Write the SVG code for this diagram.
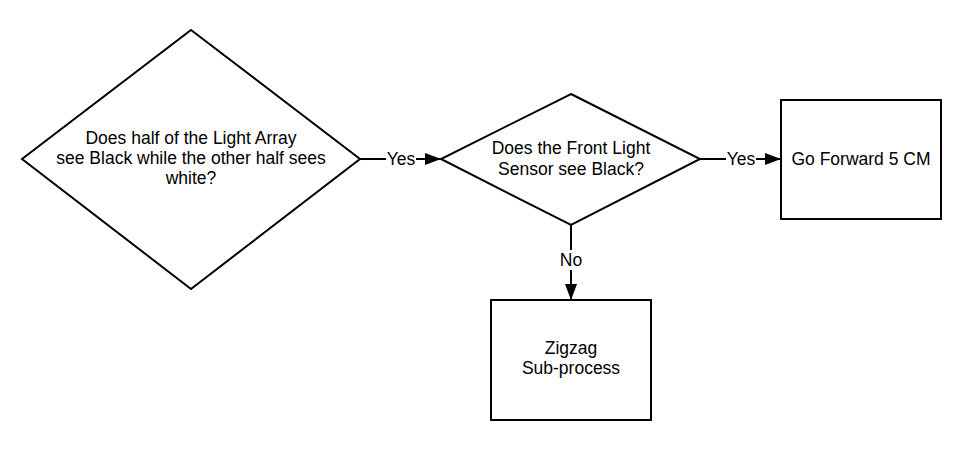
<svg xmlns="http://www.w3.org/2000/svg" width="980" height="461" viewBox="0 0 980 461">
<style>
.shape{fill:#fff;stroke:#000;stroke-width:2}
.t{font-family:"Liberation Sans",Arial,sans-serif;font-size:17.5px;fill:#000;text-anchor:middle;dominant-baseline:central}
.line{stroke:#000;stroke-width:2;fill:none}
.lbl{fill:#fff}
</style>
<defs>
<marker id="arr" markerWidth="16" markerHeight="12" refX="16" refY="6" orient="auto" markerUnits="userSpaceOnUse">
<path d="M0,0 L16,6 L0,12 Z" fill="#000"/>
</marker>
</defs>
<rect width="980" height="461" fill="#fff"/>
<g id="connectors">
<line class="line" x1="360" y1="159" x2="441" y2="159" marker-end="url(#arr)"/>
<rect class="lbl" x="386" y="150" width="30" height="18"/>
<text class="t" x="401" y="159">Yes</text>
<line class="line" x1="700" y1="159" x2="781" y2="159" marker-end="url(#arr)"/>
<rect class="lbl" x="726" y="150" width="30" height="18"/>
<text class="t" x="741" y="159">Yes</text>
<line class="line" x1="571" y1="225" x2="571" y2="300" marker-end="url(#arr)"/>
<rect class="lbl" x="558" y="250" width="26" height="20"/>
<text class="t" x="571" y="260">No</text>
</g>
<g id="d1">
<polygon class="shape" points="191,30 360,159 191,289 22,159"/>
<text class="t" x="191" y="138">Does half of the Light Array</text>
<text class="t" x="191" y="158">see Black while the other half sees</text>
<text class="t" x="191" y="178">white?</text>
</g>
<g id="d2">
<polygon class="shape" points="571,94 700,159 571,225 441,159"/>
<text class="t" x="571" y="148">Does the Front Light</text>
<text class="t" x="571" y="169">Sensor see Black?</text>
</g>
<g id="forward">
<rect class="shape" x="781" y="100" width="160" height="119"/>
<text class="t" x="861" y="159">Go Forward 5 CM</text>
</g>
<g id="zigzag">
<rect class="shape" x="491" y="300" width="160" height="120"/>
<text class="t" x="571" y="348">Zigzag</text>
<text class="t" x="571" y="368">Sub-process</text>
</g>
</svg>
